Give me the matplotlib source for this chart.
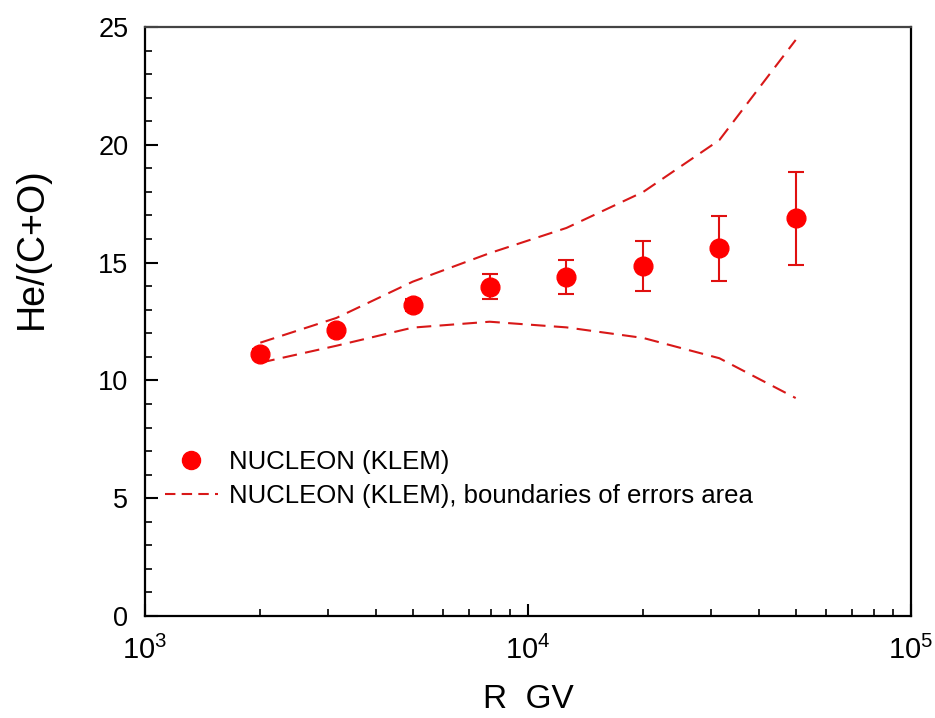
import matplotlib
matplotlib.use("Agg")
import matplotlib.pyplot as plt
from matplotlib.ticker import LogLocator, MultipleLocator, FixedLocator, NullFormatter
from matplotlib.lines import Line2D

plt.rcParams['font.family'] = ['Liberation Sans', 'DejaVu Sans']
plt.rcParams['mathtext.fontset'] = 'custom'
plt.rcParams['mathtext.rm'] = 'Liberation Sans'
plt.rcParams['mathtext.it'] = 'Liberation Sans'

# Data
rigidity = [2000, 3160, 5000, 7940, 12600, 20000, 31600, 50000]
ratio = [11.12, 12.14, 13.2, 13.96, 14.39, 14.86, 15.63, 16.88]
err_low = [0.2, 0.2, 0.25, 0.5, 0.74, 1.05, 1.41, 1.98]
err_high = [0.2, 0.2, 0.25, 0.56, 0.71, 1.07, 1.35, 1.98]
upper_bound = [11.6, 12.65, 14.19, 15.4, 16.47, 18.0, 20.2, 24.45]
lower_bound = [10.75, 11.47, 12.24, 12.49, 12.25, 11.8, 10.94, 9.25]

x_tick_vals = [1e3, 1e4, 1e5]
x_tick_labels = [r'$10^{3}$', r'$10^{4}$', r'$10^{5}$']
y_tick_vals = [0, 5, 10, 15, 20, 25]

fig = plt.figure(figsize=(9.35, 7.18), dpi=100)
ax = fig.add_axes([0.1551, 0.1421, 0.8192, 0.8203])

line_color = '#D81818'
ax.plot(rigidity, upper_bound, color=line_color, lw=1.5, dashes=(7, 4))
ax.plot(rigidity, lower_bound, color=line_color, lw=1.5, dashes=(7, 4))
ax.errorbar(rigidity, ratio, yerr=[err_low, err_high], fmt='o', color='#FF0000',
            ecolor='#E01010', elinewidth=1.5, capsize=6, capthick=1.5,
            markersize=13.5, zorder=3)

ax.set_xscale('log')
ax.set_xlim(1e3, 1e5)
ax.set_ylim(0, 25)
ax.xaxis.set_major_locator(FixedLocator(x_tick_vals))
ax.set_xticklabels(x_tick_labels)
ax.xaxis.set_minor_locator(LogLocator(base=10, subs=range(2, 10)))
ax.xaxis.set_minor_formatter(NullFormatter())
ax.yaxis.set_major_locator(FixedLocator(y_tick_vals))
ax.yaxis.set_minor_locator(MultipleLocator(1))

ax.tick_params(which='both', direction='in', top=False, right=False)
ax.tick_params(which='major', length=9, width=1.5)
ax.tick_params(which='minor', length=5, width=1.2)
ax.tick_params(axis='x', which='major', pad=14, labelsize=21)
ax.tick_params(axis='y', which='major', pad=12, labelsize=19.5)

for side in ['left', 'bottom', 'right']:
    ax.spines[side].set_linewidth(1.6)
    ax.spines[side].set_color('black')
ax.spines['top'].set_linewidth(1.6)
ax.spines['top'].set_color('#444444')

ax.set_xlabel('R  GV', fontsize=24, labelpad=14)
ax.set_ylabel('He/(C+O)', fontsize=27)
ax.yaxis.set_label_coords(-0.124, 0.625)

handles = [
    Line2D([], [], marker='o', color='#FF0000', linestyle='none', markersize=13),
    Line2D([], [], color=line_color, lw=1.5, dashes=(5, 3)),
]
labels = ['NUCLEON (KLEM)', 'NUCLEON (KLEM), boundaries of errors area']
ax.legend(handles, labels, loc='upper left', bbox_to_anchor=(0.026, 0.281),
          borderaxespad=0, borderpad=0,
          frameon=False, fontsize=18.5, handlelength=2.05, handletextpad=0.45,
          labelspacing=0.36)

fig.savefig('out.png', dpi=100)
